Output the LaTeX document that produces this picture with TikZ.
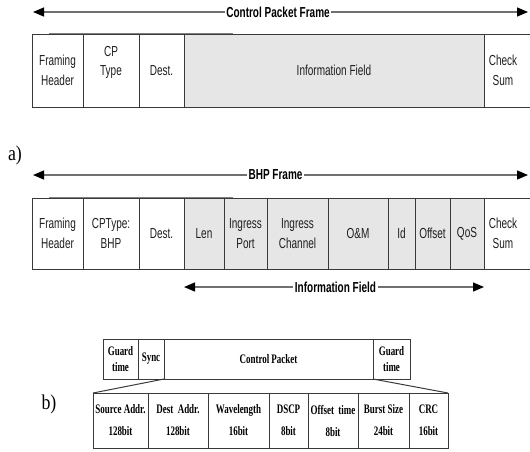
\documentclass[tikz,border=0pt]{standalone}
\usepackage{fontspec}
\usetikzlibrary{arrows.meta}
\setmainfont{Liberation Serif}
\newfontfamily\narrowsans[FakeStretch=0.69]{Liberation Sans}
\newfontfamily\narrowserif[FakeStretch=0.69]{Liberation Serif}
\newfontfamily\labelserif[FakeStretch=0.85]{Liberation Serif}
\definecolor{linegray}{HTML}{3A3A3A}
\definecolor{infogray}{HTML}{E6E6E6}
\definecolor{spangray}{HTML}{707070}
\definecolor{textdark}{HTML}{1E1E1E}
\tikzset{
  cell/.style={draw=linegray, line width=0.8pt, inner sep=0pt, outer sep=0pt,
    anchor=north west, align=center, text=textdark,
    font=\narrowsans\fontsize{14.5}{19.5}\selectfont},
  infocell/.style={cell, fill=infogray},
  celltext/.style={inner sep=0pt, align=center, text=textdark,
    font=\narrowsans\fontsize{14.5}{19.5}\selectfont},
  pkcell/.style={draw=linegray, line width=1pt, inner sep=0pt, outer sep=0pt,
    anchor=north west, align=center, text=black,
    font=\narrowserif\bfseries\fontsize{13}{16}\selectfont},
  fieldcell/.style={pkcell, font=\narrowserif\bfseries\fontsize{13}{22}\selectfont},
  span/.style={draw=spangray, line width=1.3pt,
    {Triangle[length=11pt,width=9pt,color=black]}-{Triangle[length=11pt,width=9pt,color=black]}},
  spanlabel/.style={fill=white, inner xsep=1.5pt, inner ysep=1pt, text=black,
    font=\narrowsans\bfseries\fontsize{14.5}{15}\selectfont},
  partlabel/.style={inner sep=0pt, font=\labelserif\fontsize{21}{22}\selectfont},
  topedge/.style={draw=gray, line width=1.4pt},
}
\begin{document}
\begin{tikzpicture}[x=1pt, y=-1pt]
\useasboundingbox (0,0) rectangle (530,451);
\clip (0,0) rectangle (530,451);

% ---------- a) control packet frame ----------
\coordinate (cpfL) at (33,12);
\coordinate (cpfR) at (528,12);
\draw[span] (cpfL) -- (cpfR) node[spanlabel, pos=0.495] (cpfT) {Control Packet Frame};

\node[cell, minimum width=51pt, minimum height=73pt] (fh1) at (32,34) {Framing\\Header};
\node[cell, minimum width=56pt, minimum height=73pt] (ct1) at (83,34) {CP\\Type\\\mbox{}};
\node[cell, minimum width=45pt, minimum height=73pt] (ds1) at (139,34) {Dest.};
\node[infocell, minimum width=300pt, minimum height=73pt] (if1) at (184,34) {Information Field};
\node[cell, minimum width=60pt, minimum height=73pt] (cs1) at (484,34) {};
\node[celltext] (cs1t) at (503,70.5) {Check\\Sum};
\coordinate (tl1a) at (49,33.6);
\coordinate (tl1b) at (233,33.6);
\draw[topedge] (tl1a) -- (tl1b);

\node[partlabel] (lblA) at (15,155) {a)};

% ---------- BHP frame ----------
\coordinate (bhpL) at (33,175);
\coordinate (bhpR) at (528,175);
\draw[span] (bhpL) -- (bhpR) node[spanlabel, pos=0.49] (bhpT) {BHP Frame};

\node[cell, minimum width=51pt, minimum height=71pt] (fh2) at (32,198) {Framing\\Header};
\node[cell, minimum width=56pt, minimum height=71pt] (ct2) at (83,198) {CPType:\\BHP};
\node[cell, minimum width=45pt, minimum height=71pt] (ds2) at (139,198) {Dest.};
\node[infocell, minimum width=40pt, minimum height=71pt] (len) at (184,198) {Len};
\node[infocell, minimum width=43pt, minimum height=71pt] (ip) at (224,198) {Ingress\\Port};
\node[infocell, minimum width=61pt, minimum height=71pt] (ic) at (267,198) {Ingress\\Channel};
\node[infocell, minimum width=60pt, minimum height=71pt] (om) at (328,198) {O\&M};
\node[infocell, minimum width=27pt, minimum height=71pt] (id) at (388,198) {Id};
\node[infocell, minimum width=35pt, minimum height=71pt] (off) at (415,198) {Offset};
\node[infocell, minimum width=34pt, minimum height=71pt] (qos) at (450,198) {QoS};
\node[cell, minimum width=60pt, minimum height=71pt] (cs2) at (484,198) {};
\node[celltext] (cs2t) at (503,233.5) {Check\\Sum};
\coordinate (tl2a) at (49,197.6);
\coordinate (tl2b) at (233,197.6);
\draw[topedge] (tl2a) -- (tl2b);

\coordinate (ifL) at (len.south west |- 0,287);
\coordinate (ifR) at (qos.south east |- 0,287);
\draw[span] (ifL) -- (ifR) node[spanlabel, pos=0.505] (ifT) {Information Field};

% ---------- b) burst header slot ----------
\node[pkcell, minimum width=35pt, minimum height=40pt] (gt1) at (103,339) {Guard\\time};
\node[pkcell, minimum width=26pt, minimum height=40pt] (sync) at (138,339) {Sync};
\node[pkcell, minimum width=209pt, minimum height=40pt] (cp) at (164,339) {Control\,Packet};
\node[pkcell, minimum width=37pt, minimum height=40pt] (gt2) at (373,339) {Guard\\time};

\node[fieldcell, minimum width=55pt, minimum height=55pt] (src) at (93,393) {Source\,Addr.\\128bit};
\node[fieldcell, minimum width=60pt, minimum height=55pt] (dst) at (148,393) {Dest\ \ Addr.\\128bit};
\node[fieldcell, minimum width=61pt, minimum height=55pt] (wl) at (208,393) {Wavelength\\16bit};
\node[fieldcell, minimum width=39pt, minimum height=55pt] (dscp) at (269,393) {DSCP\\8bit};
\node[fieldcell, minimum width=50pt, minimum height=55pt] (ot) at (308,393) {Offset\ \ time\\8bit};
\node[fieldcell, minimum width=51pt, minimum height=55pt] (bs) at (358,393) {Burst\,Size\\24bit};
\node[fieldcell, minimum width=39pt, minimum height=55pt] (crc) at (409,393) {CRC\\16bit};

\draw[draw=linegray, line width=1pt] (cp.south west) -- (src.north west);
\draw[draw=linegray, line width=1pt] (gt2.south west) -- (crc.north east);

\node[partlabel] (lblB) at (49,404) {b)};
\end{tikzpicture}
\end{document}
